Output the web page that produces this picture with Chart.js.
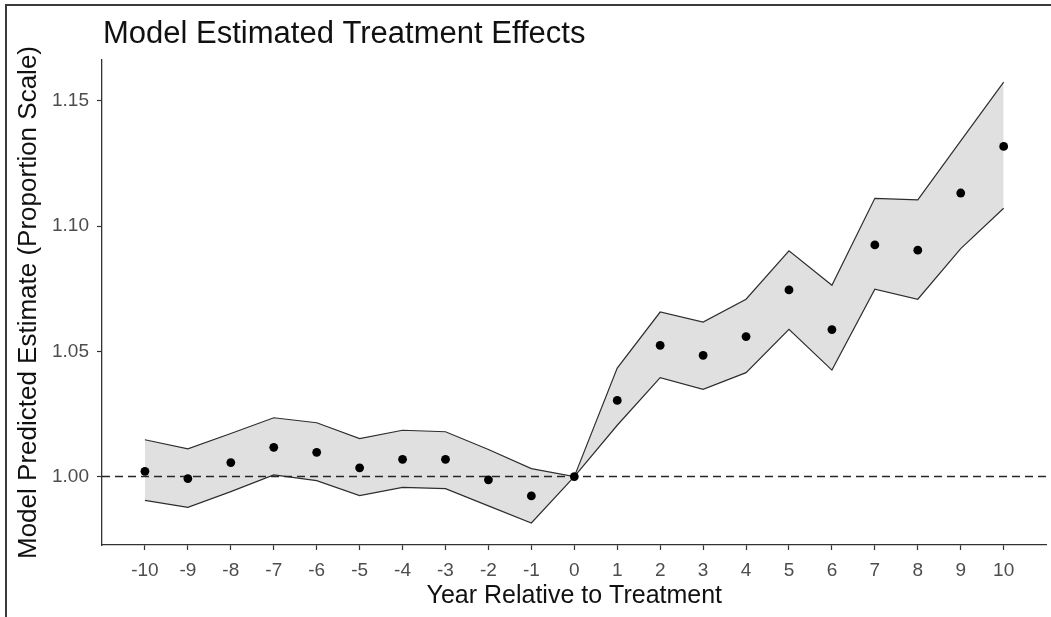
<!DOCTYPE html>
<html>
<head>
<meta charset="utf-8">
<title>Model Estimated Treatment Effects</title>
<script src="https://cdn.jsdelivr.net/npm/chart.js@4.4.1/dist/chart.umd.min.js"></script>
<style>
  html, body { margin: 0; padding: 0; background: #ffffff; }
  canvas { display: block; }
</style>
</head>
<body>
<canvas id="effects" width="1051" height="617"></canvas>
<script>
// Event-study estimates by year relative to treatment
const years = [-10, -9, -8, -7, -6, -5, -4, -3, -2, -1, 0, 1, 2, 3, 4, 5, 6, 7, 8, 9, 10];
const estimate = [1.0021, 0.9992, 1.0056, 1.0117, 1.0097, 1.0035, 1.0069, 1.0069, 0.9987, 0.9923, 1.0000,
                  1.0304, 1.0524, 1.0484, 1.0559, 1.0745, 1.0587, 1.0925, 1.0904, 1.1132, 1.1318];
const upperCI = [1.0147, 1.0111, 1.0172, 1.0235, 1.0215, 1.0152, 1.0185, 1.0179, 1.0108, 1.0032, 1.0000,
                 1.0433, 1.0657, 1.0617, 1.0708, 1.0901, 1.0764, 1.1111, 1.1105, 1.1340, 1.1575];
const lowerCI = [0.9905, 0.9877, 0.9940, 1.0007, 0.9984, 0.9924, 0.9957, 0.9952, 0.9883, 0.9815, 1.0000,
                 1.0205, 1.0395, 1.0348, 1.0415, 1.0588, 1.0425, 1.0748, 1.0708, 1.0910, 1.1071];
const xTickValues = years;
const yTickValues = [1.00, 1.05, 1.10, 1.15];
const referenceLevel = 1.0;

const titleText = 'Model Estimated Treatment Effects';
const xTitleText = 'Year Relative to Treatment';
const yTitleText = 'Model Predicted Estimate (Proportion Scale)';

const FONT = "'Liberation Sans', Arial, Helvetica, sans-serif";
const toPoints = vals => years.map((yr, i) => ({ x: yr, y: vals[i] }));

// Dashed horizontal reference at the null effect, drawn above the band and below the points
const referenceLine = {
  id: 'referenceLine',
  beforeDatasetDraw(chart, args) {
    if (args.index !== 0) return;
    const { ctx, chartArea, scales } = chart;
    const y = scales.y.getPixelForValue(referenceLevel);
    ctx.save();
    ctx.strokeStyle = '#262626';
    ctx.lineWidth = 1.5;
    ctx.setLineDash([8, 5]);
    ctx.beginPath();
    ctx.moveTo(chartArea.left, y);
    ctx.lineTo(chartArea.right, y);
    ctx.stroke();
    ctx.restore();
  }
};

// Plot title and outer frame edges
const titleAndFrame = {
  id: 'titleAndFrame',
  afterDraw(chart) {
    const { ctx, chartArea } = chart;
    ctx.save();
    ctx.fillStyle = '#3a3a3a';
    ctx.fillRect(5, 4, chart.width - 5, 2);
    ctx.fillRect(5, 4, 2, chart.height - 4);
    ctx.fillStyle = '#111111';
    ctx.font = '31px ' + FONT;
    ctx.textAlign = 'left';
    ctx.textBaseline = 'alphabetic';
    ctx.fillText(titleText, chartArea.left + 1, 43);
    ctx.restore();
  }
};

new Chart(document.getElementById('effects'), {
  type: 'scatter',
  data: {
    datasets: [
      {
        label: 'Estimate',
        data: toPoints(estimate),
        showLine: false,
        pointRadius: 4.4,
        pointHoverRadius: 4.4,
        pointBackgroundColor: '#000000',
        pointBorderWidth: 0,
        order: 0
      },
      {
        label: 'Lower bound',
        data: toPoints(lowerCI),
        showLine: true,
        borderColor: '#2e2e2e',
        borderWidth: 1.2,
        pointRadius: 0,
        fill: false,
        tension: 0,
        order: 2
      },
      {
        label: 'Upper bound',
        data: toPoints(upperCI),
        showLine: true,
        borderColor: '#2e2e2e',
        borderWidth: 1.2,
        pointRadius: 0,
        backgroundColor: '#e0e0e0',
        fill: '-1',
        tension: 0,
        order: 2
      }
    ]
  },
  options: {
    responsive: false,
    animation: false,
    events: [],
    layout: { padding: { top: 60, right: 1, bottom: 0, left: 0 } },
    plugins: {
      legend: { display: false },
      tooltip: { enabled: false },
      title: { display: false }
    },
    scales: {
      x: {
        type: 'linear',
        min: -11,
        max: 11,
        afterBuildTicks: scale => { scale.ticks = xTickValues.map(v => ({ value: v })); },
        afterFit: scale => { scale.height = 72; },
        ticks: {
          color: '#4d4d4d',
          font: { family: FONT, size: 19 },
          padding: 9,
          maxRotation: 0,
          autoSkip: false,
          callback: v => String(v)
        },
        grid: { drawOnChartArea: false, drawTicks: true, tickLength: 5, tickColor: '#333333', tickWidth: 1.2 },
        border: { display: true, color: '#333333', width: 1.3 },
        title: {
          display: true,
          text: xTitleText,
          color: '#111111',
          font: { family: FONT, size: 25 },
          padding: { top: 0, bottom: 6 }
        }
      },
      y: {
        type: 'linear',
        min: 0.9727,
        max: 1.1663,
        afterBuildTicks: scale => { scale.ticks = yTickValues.map(v => ({ value: v })); },
        afterFit: scale => { scale.width = 102; },
        ticks: {
          color: '#4d4d4d',
          font: { family: FONT, size: 19 },
          padding: 8,
          callback: v => Number(v).toFixed(2)
        },
        grid: { drawOnChartArea: false, drawTicks: true, tickLength: 5, tickColor: '#333333', tickWidth: 1.2 },
        border: { display: true, color: '#333333', width: 1.3 },
        title: {
          display: true,
          text: yTitleText,
          color: '#111111',
          font: { family: FONT, size: 26 },
          padding: { top: 13, bottom: 0 }
        }
      }
    }
  },
  plugins: [referenceLine, titleAndFrame]
});
</script>
</body>
</html>
